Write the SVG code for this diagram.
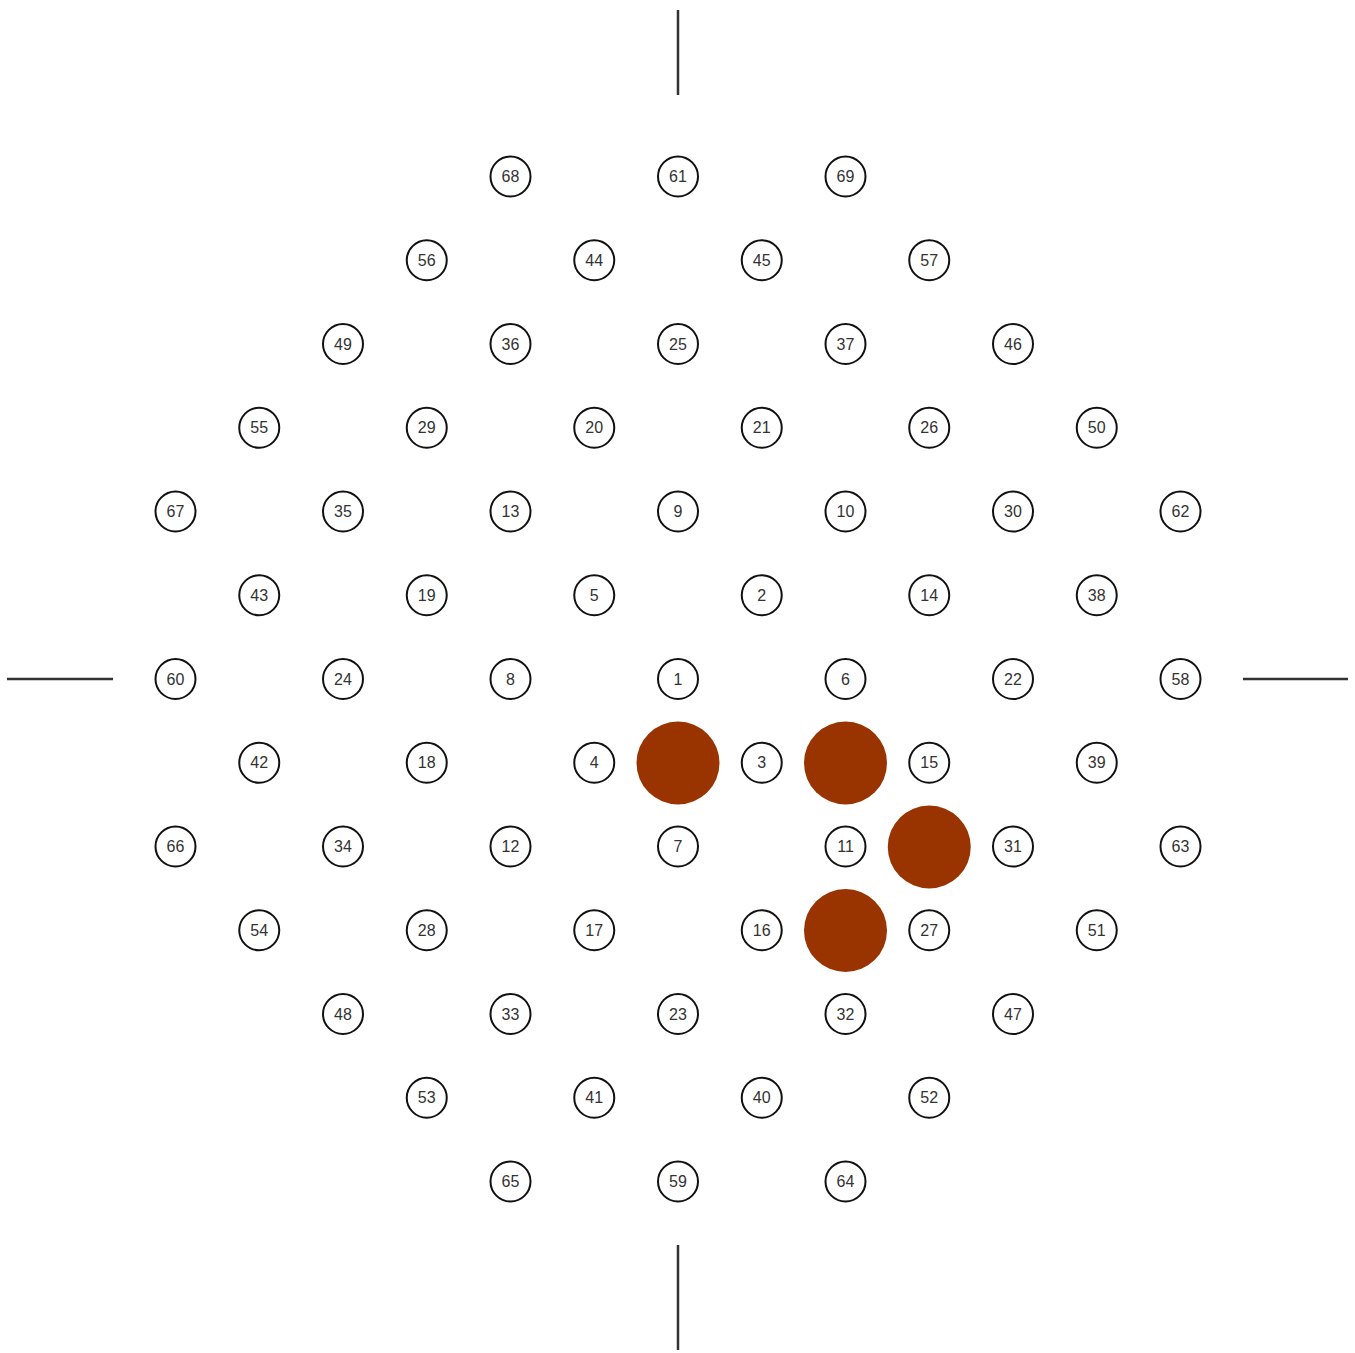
<svg xmlns="http://www.w3.org/2000/svg" width="1355" height="1353" viewBox="0 0 1355 1353">
<style>
.n circle{fill:#fff;stroke:#111;stroke-width:2}
.n text{font-family:"Liberation Sans",Arial,sans-serif;font-size:16px;fill:#333;text-anchor:middle;dominant-baseline:central}
.big{fill:#993300}
.ax{stroke:#333;stroke-width:2.5}
</style>
<g id="connectors">
<line class="ax" x1="678" y1="10" x2="678" y2="95"/>
<line class="ax" x1="678" y1="1245" x2="678" y2="1350"/>
<line class="ax" x1="7" y1="679" x2="113" y2="679"/>
<line class="ax" x1="1243" y1="679" x2="1348" y2="679"/>
</g>
<g id="markers">
<circle id="m1" class="big" cx="678" cy="763" r="41.5"/>
<circle id="m2" class="big" cx="845.5" cy="763" r="41.5"/>
<circle id="m3" class="big" cx="929.25" cy="847" r="41.5"/>
<circle id="m4" class="big" cx="845.5" cy="930.5" r="41.5"/>
</g>
<g id="n68" class="n"><circle cx="510.5" cy="176.5" r="20"/><text x="510.5" y="176.5">68</text></g>
<g id="n61" class="n"><circle cx="678" cy="176.5" r="20"/><text x="678" y="176.5">61</text></g>
<g id="n69" class="n"><circle cx="845.5" cy="176.5" r="20"/><text x="845.5" y="176.5">69</text></g>
<g id="n56" class="n"><circle cx="426.75" cy="260.25" r="20"/><text x="426.75" y="260.25">56</text></g>
<g id="n44" class="n"><circle cx="594.25" cy="260.25" r="20"/><text x="594.25" y="260.25">44</text></g>
<g id="n45" class="n"><circle cx="761.75" cy="260.25" r="20"/><text x="761.75" y="260.25">45</text></g>
<g id="n57" class="n"><circle cx="929.25" cy="260.25" r="20"/><text x="929.25" y="260.25">57</text></g>
<g id="n49" class="n"><circle cx="343" cy="344" r="20"/><text x="343" y="344">49</text></g>
<g id="n36" class="n"><circle cx="510.5" cy="344" r="20"/><text x="510.5" y="344">36</text></g>
<g id="n25" class="n"><circle cx="678" cy="344" r="20"/><text x="678" y="344">25</text></g>
<g id="n37" class="n"><circle cx="845.5" cy="344" r="20"/><text x="845.5" y="344">37</text></g>
<g id="n46" class="n"><circle cx="1013" cy="344" r="20"/><text x="1013" y="344">46</text></g>
<g id="n55" class="n"><circle cx="259.25" cy="427.75" r="20"/><text x="259.25" y="427.75">55</text></g>
<g id="n29" class="n"><circle cx="426.75" cy="427.75" r="20"/><text x="426.75" y="427.75">29</text></g>
<g id="n20" class="n"><circle cx="594.25" cy="427.75" r="20"/><text x="594.25" y="427.75">20</text></g>
<g id="n21" class="n"><circle cx="761.75" cy="427.75" r="20"/><text x="761.75" y="427.75">21</text></g>
<g id="n26" class="n"><circle cx="929.25" cy="427.75" r="20"/><text x="929.25" y="427.75">26</text></g>
<g id="n50" class="n"><circle cx="1096.75" cy="427.75" r="20"/><text x="1096.75" y="427.75">50</text></g>
<g id="n67" class="n"><circle cx="175.5" cy="511.5" r="20"/><text x="175.5" y="511.5">67</text></g>
<g id="n35" class="n"><circle cx="343" cy="511.5" r="20"/><text x="343" y="511.5">35</text></g>
<g id="n13" class="n"><circle cx="510.5" cy="511.5" r="20"/><text x="510.5" y="511.5">13</text></g>
<g id="n9" class="n"><circle cx="678" cy="511.5" r="20"/><text x="678" y="511.5">9</text></g>
<g id="n10" class="n"><circle cx="845.5" cy="511.5" r="20"/><text x="845.5" y="511.5">10</text></g>
<g id="n30" class="n"><circle cx="1013" cy="511.5" r="20"/><text x="1013" y="511.5">30</text></g>
<g id="n62" class="n"><circle cx="1180.5" cy="511.5" r="20"/><text x="1180.5" y="511.5">62</text></g>
<g id="n43" class="n"><circle cx="259.25" cy="595.25" r="20"/><text x="259.25" y="595.25">43</text></g>
<g id="n19" class="n"><circle cx="426.75" cy="595.25" r="20"/><text x="426.75" y="595.25">19</text></g>
<g id="n5" class="n"><circle cx="594.25" cy="595.25" r="20"/><text x="594.25" y="595.25">5</text></g>
<g id="n2" class="n"><circle cx="761.75" cy="595.25" r="20"/><text x="761.75" y="595.25">2</text></g>
<g id="n14" class="n"><circle cx="929.25" cy="595.25" r="20"/><text x="929.25" y="595.25">14</text></g>
<g id="n38" class="n"><circle cx="1096.75" cy="595.25" r="20"/><text x="1096.75" y="595.25">38</text></g>
<g id="n60" class="n"><circle cx="175.5" cy="679" r="20"/><text x="175.5" y="679">60</text></g>
<g id="n24" class="n"><circle cx="343" cy="679" r="20"/><text x="343" y="679">24</text></g>
<g id="n8" class="n"><circle cx="510.5" cy="679" r="20"/><text x="510.5" y="679">8</text></g>
<g id="n1" class="n"><circle cx="678" cy="679" r="20"/><text x="678" y="679">1</text></g>
<g id="n6" class="n"><circle cx="845.5" cy="679" r="20"/><text x="845.5" y="679">6</text></g>
<g id="n22" class="n"><circle cx="1013" cy="679" r="20"/><text x="1013" y="679">22</text></g>
<g id="n58" class="n"><circle cx="1180.5" cy="679" r="20"/><text x="1180.5" y="679">58</text></g>
<g id="n42" class="n"><circle cx="259.25" cy="762.75" r="20"/><text x="259.25" y="762.75">42</text></g>
<g id="n18" class="n"><circle cx="426.75" cy="762.75" r="20"/><text x="426.75" y="762.75">18</text></g>
<g id="n4" class="n"><circle cx="594.25" cy="762.75" r="20"/><text x="594.25" y="762.75">4</text></g>
<g id="n3" class="n"><circle cx="761.75" cy="762.75" r="20"/><text x="761.75" y="762.75">3</text></g>
<g id="n15" class="n"><circle cx="929.25" cy="762.75" r="20"/><text x="929.25" y="762.75">15</text></g>
<g id="n39" class="n"><circle cx="1096.75" cy="762.75" r="20"/><text x="1096.75" y="762.75">39</text></g>
<g id="n66" class="n"><circle cx="175.5" cy="846.5" r="20"/><text x="175.5" y="846.5">66</text></g>
<g id="n34" class="n"><circle cx="343" cy="846.5" r="20"/><text x="343" y="846.5">34</text></g>
<g id="n12" class="n"><circle cx="510.5" cy="846.5" r="20"/><text x="510.5" y="846.5">12</text></g>
<g id="n7" class="n"><circle cx="678" cy="846.5" r="20"/><text x="678" y="846.5">7</text></g>
<g id="n11" class="n"><circle cx="845.5" cy="846.5" r="20"/><text x="845.5" y="846.5">11</text></g>
<g id="n31" class="n"><circle cx="1013" cy="846.5" r="20"/><text x="1013" y="846.5">31</text></g>
<g id="n63" class="n"><circle cx="1180.5" cy="846.5" r="20"/><text x="1180.5" y="846.5">63</text></g>
<g id="n54" class="n"><circle cx="259.25" cy="930.25" r="20"/><text x="259.25" y="930.25">54</text></g>
<g id="n28" class="n"><circle cx="426.75" cy="930.25" r="20"/><text x="426.75" y="930.25">28</text></g>
<g id="n17" class="n"><circle cx="594.25" cy="930.25" r="20"/><text x="594.25" y="930.25">17</text></g>
<g id="n16" class="n"><circle cx="761.75" cy="930.25" r="20"/><text x="761.75" y="930.25">16</text></g>
<g id="n27" class="n"><circle cx="929.25" cy="930.25" r="20"/><text x="929.25" y="930.25">27</text></g>
<g id="n51" class="n"><circle cx="1096.75" cy="930.25" r="20"/><text x="1096.75" y="930.25">51</text></g>
<g id="n48" class="n"><circle cx="343" cy="1014" r="20"/><text x="343" y="1014">48</text></g>
<g id="n33" class="n"><circle cx="510.5" cy="1014" r="20"/><text x="510.5" y="1014">33</text></g>
<g id="n23" class="n"><circle cx="678" cy="1014" r="20"/><text x="678" y="1014">23</text></g>
<g id="n32" class="n"><circle cx="845.5" cy="1014" r="20"/><text x="845.5" y="1014">32</text></g>
<g id="n47" class="n"><circle cx="1013" cy="1014" r="20"/><text x="1013" y="1014">47</text></g>
<g id="n53" class="n"><circle cx="426.75" cy="1097.75" r="20"/><text x="426.75" y="1097.75">53</text></g>
<g id="n41" class="n"><circle cx="594.25" cy="1097.75" r="20"/><text x="594.25" y="1097.75">41</text></g>
<g id="n40" class="n"><circle cx="761.75" cy="1097.75" r="20"/><text x="761.75" y="1097.75">40</text></g>
<g id="n52" class="n"><circle cx="929.25" cy="1097.75" r="20"/><text x="929.25" y="1097.75">52</text></g>
<g id="n65" class="n"><circle cx="510.5" cy="1181.5" r="20"/><text x="510.5" y="1181.5">65</text></g>
<g id="n59" class="n"><circle cx="678" cy="1181.5" r="20"/><text x="678" y="1181.5">59</text></g>
<g id="n64" class="n"><circle cx="845.5" cy="1181.5" r="20"/><text x="845.5" y="1181.5">64</text></g>
</svg>
